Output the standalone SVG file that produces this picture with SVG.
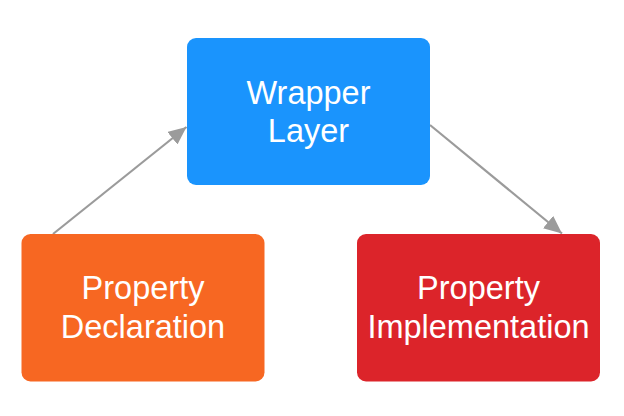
<svg xmlns="http://www.w3.org/2000/svg" width="624" height="416" viewBox="0 0 624 416">
  <style>
    .lbl { font-family: "Liberation Sans", Arial, Helvetica, sans-serif; font-size: 32.5px; fill: #ffffff; text-anchor: middle; }
    .conn { stroke: #9b9b9b; stroke-width: 2.2; fill: none; }
  </style>
  <defs>
    <marker id="arrow" viewBox="0 0 18 16" refX="18" refY="8" markerWidth="18" markerHeight="16" markerUnits="userSpaceOnUse" orient="auto">
      <path d="M0,0 L18,8 L0,16 Z" fill="#9b9b9b"/>
    </marker>
  </defs>
  <rect width="624" height="416" fill="#ffffff"/>
  <g id="connectors">
    <line class="conn" x1="53" y1="234" x2="186.5" y2="127" marker-end="url(#arrow)"/>
    <line class="conn" x1="430" y1="125" x2="562" y2="233.5" marker-end="url(#arrow)"/>
  </g>
  <g id="wrapper-layer">
    <rect x="187" y="38" width="243" height="147" rx="9" fill="#1a94fd"/>
    <text class="lbl" x="308.5" y="103.5">Wrapper</text>
    <text class="lbl" x="308.5" y="142">Layer</text>
  </g>
  <g id="property-declaration">
    <rect x="21.5" y="234" width="243" height="147.5" rx="9" fill="#f76722"/>
    <text class="lbl" x="143" y="298.5">Property</text>
    <text class="lbl" x="143" y="338">Declaration</text>
  </g>
  <g id="property-implementation">
    <rect x="357" y="234" width="243" height="147.5" rx="9" fill="#dc242a"/>
    <text class="lbl" x="478.5" y="298.5">Property</text>
    <text class="lbl" x="478.5" y="338">Implementation</text>
  </g>
</svg>
